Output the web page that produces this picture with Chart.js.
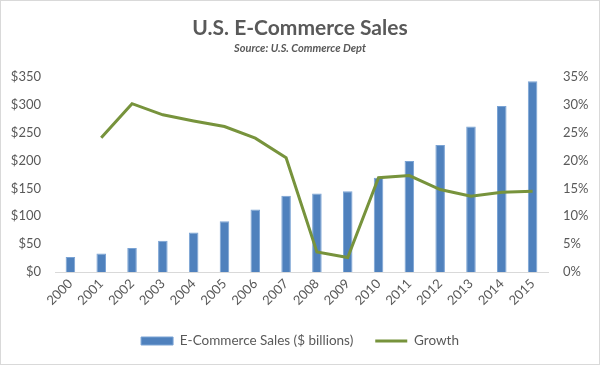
<!DOCTYPE html>
<html>
<head>
<meta charset="utf-8">
<script src="https://cdn.jsdelivr.net/npm/chart.js@4/dist/chart.umd.min.js"></script>
<style>
  html, body { margin: 0; padding: 0; background: #fff; }
  #wrap { width: 598px; height: 363px; border: 1px solid #d9d9d9; }
  canvas { display: block; }
</style>
</head>
<body>
<div id="wrap"><canvas id="c" width="598" height="363"></canvas></div>
<script>
const years = ['2000','2001','2002','2003','2004','2005','2006','2007','2008','2009','2010','2011','2012','2013','2014','2015'];
const sales = [27, 33, 43, 56, 71, 91, 112, 137, 141, 145, 169, 199, 228, 261, 298, 342];
const growth = [null, 24.1, 30.2, 28.2, 27.1, 26.1, 24.0, 20.5, 3.6, 2.6, 16.9, 17.3, 14.8, 13.6, 14.3, 14.5];
const salesTicks = [0, 50, 100, 150, 200, 250, 300, 350];
const growthTicks = [0, 5, 10, 15, 20, 25, 30, 35];

const FONT = 'Lato, "Open Sans", sans-serif';
const TXT = '#595959';
const BLUE = '#4f81bd';
const GREEN = '#77933c';

new Chart(document.getElementById('c'), {
  type: 'bar',
  data: {
    labels: years,
    datasets: [
      {
        type: 'bar',
        label: 'E-Commerce Sales ($ billions)',
        data: sales,
        backgroundColor: BLUE,
        borderColor: '#7aa3d4',
        borderWidth: 1,
        barPercentage: 0.31,
        categoryPercentage: 1,
        yAxisID: 'y',
        order: 2
      },
      {
        type: 'line',
        label: 'Growth',
        data: growth,
        borderColor: GREEN,
        backgroundColor: GREEN,
        borderWidth: 3,
        pointRadius: 0,
        tension: 0,
        yAxisID: 'y1',
        order: 1
      }
    ]
  },
  options: {
    responsive: false,
    animation: false,
    layout: { padding: { top: 0, bottom: 6.25, left: 0, right: 0 } },
    plugins: {
      title: {
        display: true,
        text: 'U.S. E-Commerce Sales',
        color: TXT,
        font: { family: FONT, size: 21, weight: 'bold', lineHeight: 1.2 },
        padding: { top: 15, bottom: 0 }
      },
      subtitle: {
        display: true,
        text: 'Source: U.S. Commerce Dept',
        color: TXT,
        font: { family: FONT, size: 11, weight: 'bold', style: 'italic', lineHeight: 1.2 },
        padding: { top: 1, bottom: 21.5 }
      },
      legend: {
        position: 'bottom',
        labels: {
          color: TXT,
          font: { family: FONT, size: 13.5 },
          boxWidth: 32,
          boxHeight: 8,
          padding: 22,
          usePointStyle: true,
          pointStyleWidth: 32,
          sort: (a, b) => a.datasetIndex - b.datasetIndex,
          generateLabels: (chart) => {
            const items = Chart.defaults.plugins.legend.labels.generateLabels(chart);
            items.forEach(it => {
              if (it.datasetIndex === 0) {
                it.pointStyle = 'rect';
              } else {
                it.pointStyle = 'line';
                it.lineWidth = 3;
              }
            });
            return items;
          }
        }
      },
      tooltip: { enabled: false }
    },
    scales: {
      x: {
        grid: { display: false, drawTicks: false },
        border: { display: true, color: '#d9d9d9', width: 1 },
        ticks: {
          color: TXT,
          font: { family: FONT, size: 13 },
          minRotation: 45,
          maxRotation: 45,
          padding: 4
        },
        afterFit: (s) => { s.height = 40.25; }
      },
      y: {
        position: 'left',
        min: 0,
        max: 350,
        grid: { display: false, drawTicks: false },
        border: { display: false },
        afterBuildTicks: (s) => { s.ticks = salesTicks.map(v => ({ value: v })); },
        ticks: {
          color: TXT,
          font: { family: FONT, size: 13 },
          padding: 14,
          callback: (v) => '$' + v
        },
        afterFit: (s) => { s.width = 54; }
      },
      y1: {
        position: 'right',
        min: 0,
        max: 35,
        grid: { display: false, drawTicks: false },
        border: { display: false },
        afterBuildTicks: (s) => { s.ticks = growthTicks.map(v => ({ value: v })); },
        ticks: {
          color: TXT,
          font: { family: FONT, size: 13 },
          padding: 15,
          callback: (v) => v + '%'
        },
        afterFit: (s) => { s.width = 51; }
      }
    }
  }
});
</script>
</body>
</html>
